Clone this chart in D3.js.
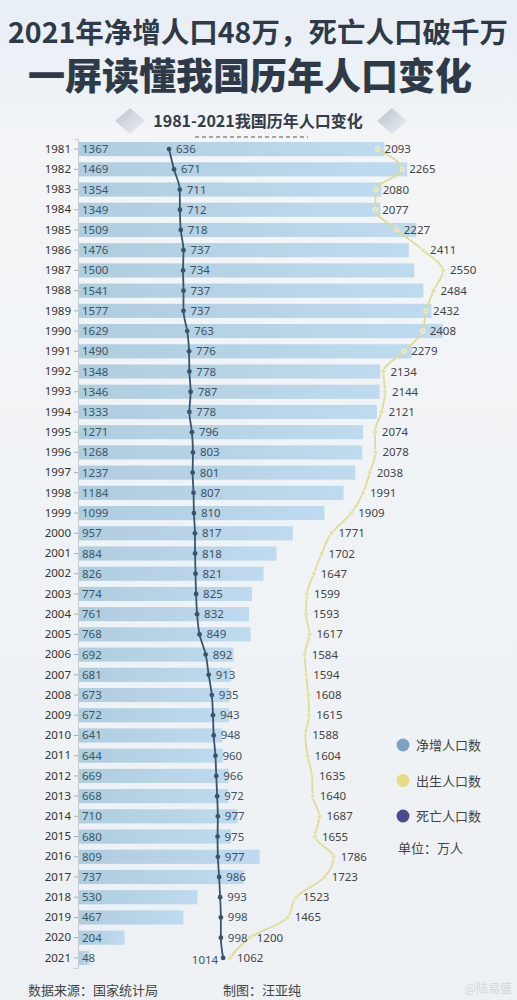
<!DOCTYPE html>
<html>
<head>
<meta charset="utf-8">
<script src="https://cdn.jsdelivr.net/npm/d3@7"></script>
<style>
  body { margin: 0; background: #edf1f4; }
  svg { display: block; font-family: "Noto Sans CJK SC", "Noto Sans", sans-serif; }
</style>
</head>
<body>
<svg id="chart" width="517" height="1000"></svg>
<script>
const years = d3.range(1981, 2022);
const netGrowth = [1367, 1469, 1354, 1349, 1509, 1476, 1500, 1541, 1577, 1629,
  1490, 1348, 1346, 1333, 1271, 1268, 1237, 1184, 1099, 957,
  884, 826, 774, 761, 768, 692, 681, 673, 672, 641,
  644, 669, 668, 710, 680, 809, 737, 530, 467, 204, 48];
const births = [2093, 2265, 2080, 2077, 2227, 2411, 2550, 2484, 2432, 2408,
  2279, 2134, 2144, 2121, 2074, 2078, 2038, 1991, 1909, 1771,
  1702, 1647, 1599, 1593, 1617, 1584, 1594, 1608, 1615, 1588,
  1604, 1635, 1640, 1687, 1655, 1786, 1723, 1523, 1465, 1200, 1062];
const deaths = [636, 671, 711, 712, 718, 737, 734, 737, 737, 763,
  776, 778, 787, 778, 796, 803, 801, 807, 810, 817,
  818, 821, 825, 832, 849, 892, 913, 935, 943, 948,
  960, 966, 972, 977, 975, 977, 986, 993, 998, 998, 1014];
const legendItems = ["净增人口数", "出生人口数", "死亡人口数"];
const legendColors = ["#7ea3c2", "#e9dc82", "#4d4b8f"];

const rows = years.map((y, i) => ({ year: y, net: netGrowth[i], birth: births[i], death: deaths[i] }));

const svg = d3.select("#chart");

// background
const defs = svg.append("defs");
const bg = defs.append("linearGradient").attr("id", "bg").attr("x1", 0).attr("y1", 0).attr("x2", 0).attr("y2", 1);
bg.append("stop").attr("offset", "0%").attr("stop-color", "#e8eef5");
bg.append("stop").attr("offset", "11%").attr("stop-color", "#eef3f7");
bg.append("stop").attr("offset", "13%").attr("stop-color", "#f3f5f7");
bg.append("stop").attr("offset", "100%").attr("stop-color", "#edf1f3");
svg.append("rect").attr("width", 517).attr("height", 1000).attr("fill", "url(#bg)");

const barGrad = defs.append("linearGradient").attr("id", "bar").attr("x1", 0).attr("x2", 1);
barGrad.append("stop").attr("offset", "0%").attr("stop-color", "#a9cadd");
barGrad.append("stop").attr("offset", "100%").attr("stop-color", "#bad8ee");

const diaGrad = defs.append("linearGradient").attr("id", "dia").attr("x1", 0).attr("y1", 0).attr("x2", 1).attr("y2", 1);
diaGrad.append("stop").attr("offset", "0%").attr("stop-color", "#b8c2cc");
diaGrad.append("stop").attr("offset", "100%").attr("stop-color", "#eef1f4");

// titles
svg.append("text").attr("x", 258).attr("y", 43).attr("text-anchor", "middle")
  .attr("font-size", 28.5).attr("font-weight", 700).attr("fill", "#2e3a48")
  .text("2021年净增人口48万，死亡人口破千万");
svg.append("text").attr("x", 250).attr("y", 90).attr("text-anchor", "middle")
  .attr("font-size", 37).attr("font-weight", 900).attr("fill", "#2e3a48")
  .text("一屏读懂我国历年人口变化");

[130, 392].forEach(cx => {
  svg.append("path")
    .attr("d", `M${cx - 15},121 L${cx},108 L${cx + 15},121 L${cx},134 Z`)
    .attr("fill", "url(#dia)");
});
svg.append("text").attr("x", 258).attr("y", 127).attr("text-anchor", "middle")
  .attr("font-size", 16).attr("font-weight", 700).attr("fill", "#333d48")
  .text("1981-2021我国历年人口变化");
svg.append("line").attr("x1", 195).attr("x2", 308).attr("y1", 137).attr("y2", 137)
  .attr("stroke", "#555").attr("stroke-width", 1).attr("stroke-dasharray", "4,3");

// scales
const y = d3.scaleBand().domain(years).range([139, 968]).paddingInner(0.3).paddingOuter(0.15);
const xNet = d3.scaleLinear().domain([0, 1629]).range([79, 443]);
const xPop = d3.scaleLinear().domain([0, 2550]).range([78, 443]);
const cy = d => y(d.year) + y.bandwidth() / 2;

// year axis
const yAxis = svg.append("g").attr("transform", "translate(78,0)")
  .call(d3.axisLeft(y).tickSize(4).tickPadding(3).tickFormat(d3.format("d")));
yAxis.select(".domain").attr("stroke", "#c5ccd2");
yAxis.selectAll(".tick line").attr("stroke", "#a8b0b8");
yAxis.selectAll(".tick text").attr("font-size", 11.5).attr("fill", "#333")
  .attr("font-family", "'Noto Sans', sans-serif");

// net growth bars
svg.append("g").selectAll("rect").data(rows).join("rect")
  .attr("x", xNet(0))
  .attr("y", d => y(d.year))
  .attr("width", d => xNet(d.net) - xNet(0))
  .attr("height", y.bandwidth())
  .attr("fill", "url(#bar)")
  .attr("opacity", 0.92);

svg.append("g").selectAll("text").data(rows).join("text")
  .attr("x", 82).attr("y", d => cy(d) + 4)
  .attr("font-size", 11.5).attr("fill", "#3b5866")
  .attr("font-family", "'Noto Sans', sans-serif")
  .text(d => d.net);

// births line
const birthLine = d3.line().x(d => xPop(d.birth)).y(cy).curve(d3.curveMonotoneY);
svg.append("path").datum(rows).attr("d", birthLine)
  .attr("fill", "none").attr("stroke", "#dedb94").attr("stroke-width", 1.8);
svg.append("g").selectAll("circle").data(rows).join("circle")
  .attr("cx", d => xPop(d.birth)).attr("cy", cy).attr("r", 2.3)
  .attr("fill", "#e3e1aa").attr("stroke", "#f4f4e0").attr("stroke-width", 0.8);
svg.append("g").selectAll("text").data(rows).join("text")
  .attr("x", d => xPop(d.birth) + 7).attr("y", d => cy(d) + 4)
  .attr("font-size", 11.5).attr("fill", "#444")
  .attr("font-family", "'Noto Sans', sans-serif")
  .text(d => d.birth);

// deaths line
const deathLine = d3.line().x(d => xPop(d.death)).y(cy).curve(d3.curveMonotoneY);
svg.append("path").datum(rows).attr("d", deathLine)
  .attr("fill", "none").attr("stroke", "#3a546b").attr("stroke-width", 1.8);
svg.append("g").selectAll("circle").data(rows).join("circle")
  .attr("cx", d => xPop(d.death)).attr("cy", cy).attr("r", 2.4)
  .attr("fill", "#3a546b");
svg.append("g").selectAll("text").data(rows).join("text")
  .attr("x", (d, i) => i === rows.length - 1 ? xPop(d.death) - 5 : xPop(d.death) + 7)
  .attr("y", (d, i) => cy(d) + (i === rows.length - 1 ? 6 : 4))
  .attr("text-anchor", (d, i) => i === rows.length - 1 ? "end" : "start")
  .attr("font-size", 11.5).attr("fill", "#3f5262")
  .attr("font-family", "'Noto Sans', sans-serif")
  .text(d => d.death);

// legend
const legend = svg.append("g");
legendItems.forEach((name, i) => {
  const ly = 745 + i * 35.5;
  legend.append("circle").attr("cx", 403).attr("cy", ly).attr("r", 6.5).attr("fill", legendColors[i]);
  legend.append("text").attr("x", 416).attr("y", ly + 5)
    .attr("font-size", 13).attr("fill", "#444").text(name);
});
legend.append("text").attr("x", 398).attr("y", 853)
  .attr("font-size", 13).attr("fill", "#444").text("单位：万人");

// footer
svg.append("text").attr("x", 28).attr("y", 995)
  .attr("font-size", 13).attr("fill", "#444").text("数据来源：国家统计局");
svg.append("text").attr("x", 223).attr("y", 995)
  .attr("font-size", 13).attr("fill", "#444").text("制图：汪亚纯");
svg.append("text").attr("x", 512).attr("y", 993).attr("text-anchor", "end")
  .attr("font-size", 12).attr("fill", "#d2d6da").text("@陆易盛");
</script>
</body>
</html>
